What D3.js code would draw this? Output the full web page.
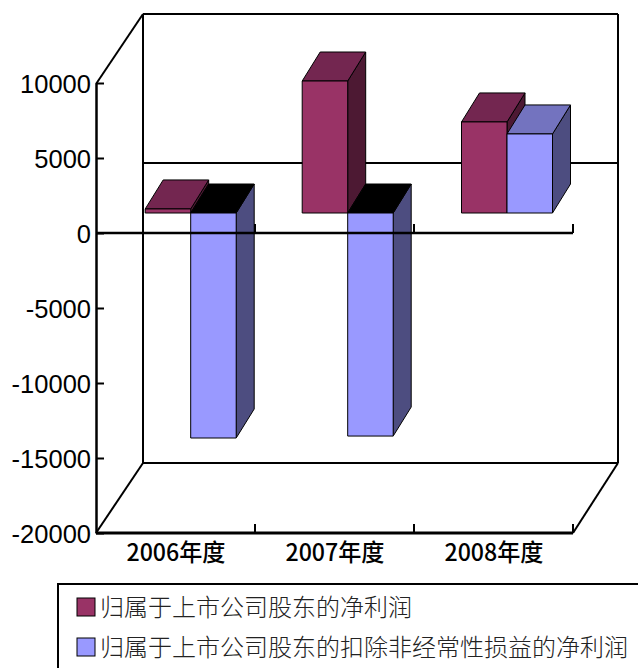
<!DOCTYPE html>
<html><head><meta charset="utf-8">
<script src="https://cdn.jsdelivr.net/npm/d3@7"></script>
<style>html,body{margin:0;padding:0;background:#fff;overflow:hidden}svg{display:block}</style>
</head><body><svg id="c" width="638" height="668"></svg>
<script>
const categories=["2006年度","2007年度","2008年度"];
const seriesNames=["归属于上市公司股东的净利润","归属于上市公司股东的扣除非经常性损益的净利润"];
const netProfit=[270,8800,6070];
const netProfitAdjusted=[-15000,-14870,5270];
const yTicks=[10000,5000,0,-5000,-10000,-15000,-20000];
const colors=[{front:"#993366",top:"#732650",side:"#4d1933"},{front:"#9999ff",top:"#7373bf",side:"#4d4d80"}];

const svg=d3.select("#c");
const x=d3.scaleBand().domain(categories).range([96,573]);
const barX=d3.scaleOrdinal().domain(categories).range([190.7,347.7,507]);
const y=d3.scaleLinear().domain([-20000,10000]).range([533,83]);
const wall={dx:47,dy:-70}, barPlane={dy:-20}, barDepth={dx:18,dy:-29}, barW=45.5;
const L=(x1,y1,x2,y2,w=2)=>svg.append("line").attr("x1",x1).attr("y1",y1).attr("x2",x2).attr("y2",y2).attr("stroke","#000").attr("stroke-width",w);

// back wall + floor
const xL=x.range()[0], xR=x.range()[1], yB=y(-20000), yT=y(10000)+1, y0=y(0);
L(xL+wall.dx,yT+wall.dy,xR+wall.dx-2,yT+wall.dy);
L(xL+wall.dx,yT+wall.dy,xL+wall.dx,yB+wall.dy);
L(xR+wall.dx-2,yT+wall.dy,xR+wall.dx-2,yB+wall.dy);
L(xL+wall.dx,yB+wall.dy,xR+wall.dx-2,yB+wall.dy);
L(xL,yT,xL+wall.dx,yT+wall.dy);
L(xL,yB,xL+wall.dx,yB+wall.dy);
L(xR,yB,xR+wall.dx-2,yB+wall.dy);
L(xL+wall.dx,y0+wall.dy,xR+wall.dx-2,y0+wall.dy);

// bars
const poly=(pts,fill)=>svg.append("polygon").attr("points",pts.map(p=>p.join(",")).join(" ")).attr("fill",fill).attr("stroke","#000").attr("stroke-width",1).attr("stroke-linejoin","round");
function bar(cat,v,s){
  const c=barX(cat);
  const x0=s===0?c-barW:c, x1=x0+barW;
  const base=y(0)+barPlane.dy, vy=y(v)+barPlane.dy;
  const t=Math.min(base,vy), b=Math.max(base,vy);
  const d=barDepth;
  poly([[x1,t],[x1+d.dx,t+d.dy],[x1+d.dx,b+d.dy],[x1,b]],colors[s].side);
  poly([[x0,t],[x0+d.dx,t+d.dy],[x1+d.dx,t+d.dy],[x1,t]],v<0?"#000":colors[s].top);
  poly([[x0,t],[x1,t],[x1,b],[x0,b]],colors[s].front);
}
categories.forEach((cat,i)=>{bar(cat,netProfit[i],0);bar(cat,netProfitAdjusted[i],1);});

// zero axis, floor axis
[y0,yB].forEach((yy,k)=>{
  L(xL,yy,xR,yy,k?3:2.5);
  categories.forEach(cat=>L(x(cat)+x.bandwidth(),yy-9,x(cat)+x.bandwidth(),yy,2));
});

// y axis
const ax=svg.append("g").attr("transform",`translate(${xL},0)`)
  .call(d3.axisLeft(y).tickValues(yTicks).tickFormat(String).tickSizeInner(-8).tickSizeOuter(0).tickPadding(5));
ax.select(".domain").attr("stroke","#000").attr("stroke-width",2.5);
ax.selectAll(".tick line").attr("stroke","#000").attr("stroke-width",2);
ax.selectAll(".tick text").attr("x",-5).attr("dy","0.36em").attr("font-family","'Liberation Sans'").attr("font-size",25.5).attr("fill","#000");

// category labels
svg.selectAll("text.cat").data(categories).join("text").attr("class","cat")
  .attr("x",d=>x(d)+x.bandwidth()/2+0.5).attr("y",561).attr("text-anchor","middle")
  .attr("font-family","'Noto Sans CJK SC'").attr("font-weight",500).attr("font-size",23.5).attr("fill","#000")
  .attr("textLength",99).attr("lengthAdjust","spacingAndGlyphs").text(d=>d);

// legend
svg.append("rect").attr("x",58).attr("y",584).attr("width",700).attr("height",200).attr("fill","none").attr("stroke","#000").attr("stroke-width",2);
const rows=[607,647];
seriesNames.forEach((n,i)=>{
  svg.append("rect").attr("x",77).attr("y",rows[i]-9).attr("width",18).attr("height",18).attr("fill",colors[i].front).attr("stroke","#000").attr("stroke-width",1);
  svg.append("text").attr("x",100).attr("y",rows[i]+9).attr("font-family","'Noto Sans CJK SC'").attr("font-weight",300).attr("font-size",24).attr("fill","#222").text(n);
});
</script></body></html>
